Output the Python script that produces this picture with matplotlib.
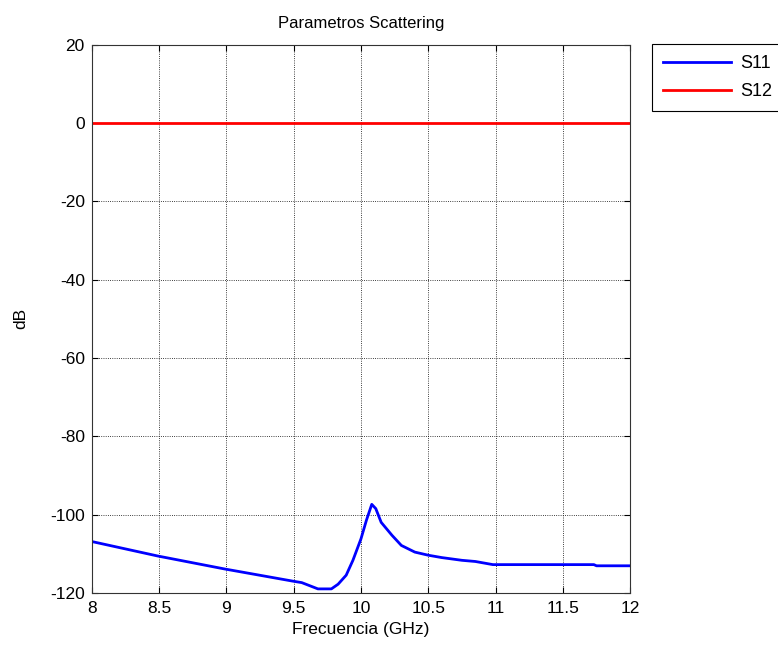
import numpy as np
import matplotlib.pyplot as plt

plt.rcParams['font.family'] = ['Liberation Sans', 'DejaVu Sans']
plt.rcParams['axes.unicode_minus'] = False

# S11 (GHz, dB)
freq_s11 = [8.0, 8.49, 8.985, 9.49, 9.56, 9.68, 9.78, 9.83, 9.89, 9.94,
            10.0, 10.04, 10.08, 10.11, 10.15, 10.23, 10.30, 10.40, 10.50,
            10.60, 10.75, 10.85, 10.98, 11.73, 11.75, 12.0]
s11_db = [-106.9, -110.6, -113.9, -117.0, -117.4, -119.0, -119.0, -117.8,
          -115.5, -111.7, -106.2, -101.5, -97.4, -98.5, -102.0, -105.3,
          -107.9, -109.6, -110.4, -111.0, -111.7, -112.0, -112.8, -112.8,
          -113.1, -113.1]

# S12 flat at 0 dB
freq_s12 = [8.0, 12.0]
s12_db = [0.0, 0.0]

xticks = [8, 8.5, 9, 9.5, 10, 10.5, 11, 11.5, 12]
xticklabels = ['8', '8.5', '9', '9.5', '10', '10.5', '11', '11.5', '12']
yticks = [-120, -100, -80, -60, -40, -20, 0, 20]

fig = plt.figure(figsize=(7.78, 6.5), dpi=100)
ax = fig.add_axes([0.118, 0.088, 0.692, 0.843])

ax.plot(freq_s11, s11_db, color='#0000ff', lw=2, label='S11')
ax.plot(freq_s12, s12_db, color='#ff0000', lw=2, label='S12')

ax.set_xlim(8, 12)
ax.set_ylim(-120, 20)
ax.set_xticks(xticks)
ax.set_xticklabels(xticklabels)
ax.set_yticks(yticks)
ax.tick_params(direction='in', top=True, right=True, labelsize=12.5, length=4)
ax.tick_params(axis='x', pad=6)
ax.tick_params(axis='y', pad=5)
ax.grid(True, color='black', linestyle=':', linewidth=0.6)
for s in ax.spines.values():
    s.set_linewidth(0.8)
    s.set_color('#333333')

ax.set_title('Parametros Scattering', fontsize=12, pad=12)
ax.set_xlabel('Frecuencia (GHz)', fontsize=12.5, labelpad=4)
ax.set_ylabel('dB', fontsize=12.5, labelpad=16)

leg = fig.legend(loc='upper left', bbox_to_anchor=(0.838, 0.932),
                 borderaxespad=0, fontsize=13, fancybox=False, framealpha=1,
                 edgecolor='black', handlelength=3.8, borderpad=0.6,
                 labelspacing=0.6, handletextpad=0.5)
leg.get_frame().set_linewidth(0.8)

fig.savefig('out.png', dpi=100)
